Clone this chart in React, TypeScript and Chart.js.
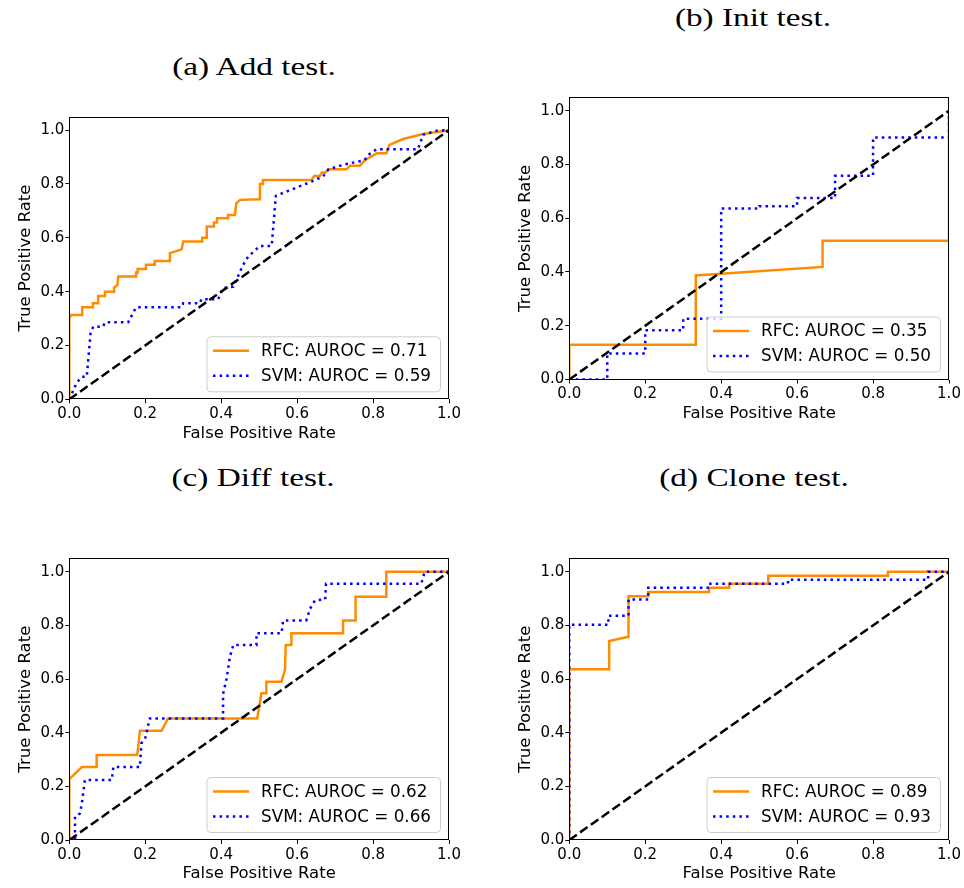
import React, { useEffect, useRef } from "react";
import { Chart, registerables } from "chart.js";

Chart.register(...registerables);

// ---------- data ----------
const addRfcFpr = [0, 0, 0.005, 0.034, 0.034, 0.062, 0.062, 0.076, 0.076, 0.094, 0.094, 0.118, 0.118, 0.127, 0.129, 0.176, 0.176, 0.18, 0.18, 0.202, 0.202, 0.225, 0.225, 0.265, 0.265, 0.296, 0.3, 0.35, 0.35, 0.362, 0.362, 0.381, 0.381, 0.389, 0.389, 0.418, 0.418, 0.436, 0.44, 0.45, 0.502, 0.502, 0.51, 0.51, 0.638, 0.645, 0.66, 0.665, 0.675, 0.683, 0.73, 0.74, 0.765, 0.78, 0.81, 0.835, 0.843, 0.879, 0.932, 1];
const addRfcTpr = [0, 0.301, 0.313, 0.313, 0.342, 0.342, 0.357, 0.357, 0.384, 0.384, 0.4, 0.4, 0.415, 0.425, 0.456, 0.456, 0.471, 0.471, 0.484, 0.484, 0.5, 0.5, 0.514, 0.514, 0.543, 0.557, 0.586, 0.586, 0.6, 0.6, 0.642, 0.642, 0.657, 0.657, 0.673, 0.673, 0.685, 0.685, 0.729, 0.741, 0.743, 0.8, 0.8, 0.815, 0.815, 0.83, 0.83, 0.843, 0.843, 0.855, 0.855, 0.868, 0.868, 0.89, 0.914, 0.914, 0.945, 0.967, 0.986, 1];
const addSvmFpr = [0, 0.019, 0.033, 0.046, 0.056, 0.063, 0.089, 0.094, 0.155, 0.176, 0.296, 0.3, 0.344, 0.348, 0.392, 0.405, 0.432, 0.458, 0.471, 0.502, 0.533, 0.544, 0.638, 0.668, 0.683, 0.721, 0.778, 0.787, 0.809, 0.918, 0.932, 0.967, 1];
const addSvmTpr = [0, 0.06, 0.084, 0.084, 0.245, 0.27, 0.27, 0.286, 0.286, 0.342, 0.342, 0.357, 0.357, 0.372, 0.372, 0.413, 0.419, 0.5, 0.53, 0.57, 0.57, 0.756, 0.809, 0.828, 0.855, 0.871, 0.889, 0.908, 0.929, 0.929, 0.983, 0.998, 1];

const initRfcFpr = [0, 0, 0.333, 0.333, 0.667, 0.667, 1, 1];
const initRfcTpr = [0, 0.129, 0.129, 0.387, 0.419, 0.516, 0.516, 1];
const initSvmFpr = [0, 0.1, 0.1, 0.2, 0.2, 0.3, 0.3, 0.4, 0.4, 0.5, 0.5, 0.6, 0.6, 0.7, 0.7, 0.8, 0.8, 1, 1];
const initSvmTpr = [0, 0, 0.097, 0.097, 0.183, 0.183, 0.226, 0.226, 0.636, 0.636, 0.645, 0.645, 0.675, 0.675, 0.758, 0.758, 0.9, 0.9, 1];

const diffRfcFpr = [0, 0, 0.033, 0.072, 0.072, 0.179, 0.186, 0.243, 0.26, 0.495, 0.506, 0.519, 0.519, 0.559, 0.568, 0.57, 0.585, 0.585, 0.721, 0.721, 0.754, 0.754, 0.835, 0.835, 1];
const diffRfcTpr = [0, 0.227, 0.272, 0.272, 0.317, 0.317, 0.407, 0.407, 0.453, 0.453, 0.547, 0.547, 0.59, 0.59, 0.634, 0.727, 0.727, 0.771, 0.771, 0.818, 0.818, 0.907, 0.907, 1, 1];
const diffSvmFpr = [0, 0.015, 0.015, 0.028, 0.033, 0.041, 0.112, 0.116, 0.186, 0.19, 0.2, 0.212, 0.405, 0.405, 0.414, 0.423, 0.432, 0.493, 0.493, 0.559, 0.563, 0.624, 0.634, 0.647, 0.674, 0.676, 0.927, 0.936, 1];
const diffSvmTpr = [0, 0, 0.087, 0.099, 0.136, 0.224, 0.224, 0.272, 0.272, 0.361, 0.38, 0.453, 0.453, 0.544, 0.6, 0.683, 0.727, 0.727, 0.771, 0.771, 0.818, 0.818, 0.862, 0.893, 0.897, 0.955, 0.955, 1, 1];

const cloneRfcFpr = [0, 0, 0.105, 0.105, 0.156, 0.156, 0.208, 0.208, 0.368, 0.368, 0.421, 0.421, 0.524, 0.524, 0.839, 0.839, 1];
const cloneRfcTpr = [0, 0.636, 0.636, 0.742, 0.758, 0.909, 0.909, 0.924, 0.924, 0.94, 0.94, 0.955, 0.955, 0.985, 0.985, 1, 1];
const cloneSvmFpr = [0, 0, 0.103, 0.103, 0.156, 0.156, 0.208, 0.208, 0.368, 0.368, 0.576, 0.576, 0.945, 0.945, 1];
const cloneSvmTpr = [0, 0.802, 0.802, 0.836, 0.836, 0.896, 0.896, 0.94, 0.94, 0.955, 0.955, 0.97, 0.97, 1, 1];

const chanceFpr = [0, 1];
const chanceTpr = [0, 1];

const panelTitles = ["(a) Add test.", "(b) Init test.", "(c) Diff test.", "(d) Clone test."];
const seriesNames = ["RFC", "SVM"];
const rfcAuroc = [0.71, 0.35, 0.62, 0.89];
const svmAuroc = [0.59, 0.5, 0.66, 0.93];
const tickValues = [0, 0.2, 0.4, 0.6, 0.8, 1.0];
const xAxisLabel = "False Positive Rate";
const yAxisLabel = "True Positive Rate";

// ---------- layout (page coordinates) ----------
type Frame = {
  L: number; T: number; W: number; H: number;
  aL: number; aT: number; aR: number; aB: number;
  yTitleX: number; xTitleY: number;
  titleX: number; titleY: number;
};

const frames: Frame[] = [
  { L: 0, T: 100, W: 470, H: 355, aL: 69.3, aT: 116.7, aR: 449, aB: 399.3, yTitleX: 26, xTitleY: 433.5, titleX: 253.5, titleY: 67 },
  { L: 500, T: 80, W: 464, H: 355, aL: 569.3, aT: 97.3, aR: 949, aB: 379.5, yTitleX: 526, xTitleY: 413.5, titleX: 752.5, titleY: 18 },
  { L: 0, T: 541, W: 470, H: 347, aL: 69.3, aT: 558.3, aR: 449, aB: 840, yTitleX: 26, xTitleY: 874, titleX: 253, titleY: 478 },
  { L: 500, T: 541, W: 464, H: 347, aL: 569.3, aT: 558.3, aR: 949, aB: 840, yTitleX: 526, xTitleY: 874, titleX: 754, titleY: 478 },
];

const panelData = [
  { rfc: [addRfcFpr, addRfcTpr], svm: [addSvmFpr, addSvmTpr] },
  { rfc: [initRfcFpr, initRfcTpr], svm: [initSvmFpr, initSvmTpr] },
  { rfc: [diffRfcFpr, diffRfcTpr], svm: [diffSvmFpr, diffSvmTpr] },
  { rfc: [cloneRfcFpr, cloneRfcTpr], svm: [cloneSvmFpr, cloneSvmTpr] },
];

const ORANGE = "#ff8c00";
const BLUE = "#0000ff";
const SANS = '"DejaVu Sans", sans-serif';
const LINE_W = 2.5;
const DOTTED = [2.5, 4.1];
const DASHED = [9.2, 4];

const zip = (xs: number[], ys: number[]) => xs.map((x, i) => ({ x, y: ys[i] }));

function makeOverlay(labels: string[]) {
  return {
    id: "rocOverlay",
    afterDraw(chart: any) {
      const { ctx, chartArea: a } = chart;
      ctx.save();
      // axes box
      ctx.setLineDash([]);
      ctx.strokeStyle = "#000";
      ctx.lineWidth = 1;
      const l = Math.round(a.left) + 0.5;
      const t = Math.round(a.top) + 0.5;
      const r = Math.round(a.right) - 0.5;
      const b = Math.round(a.bottom) - 0.5;
      ctx.strokeRect(l, t, r - l, b - t);

      // legend
      const bw = 233.5;
      const bh = 55;
      const bx = a.right - 8.5 - bw;
      const by = a.bottom - 7.5 - bh;
      const rad = 4;
      ctx.beginPath();
      ctx.moveTo(bx + rad, by);
      ctx.lineTo(bx + bw - rad, by);
      ctx.quadraticCurveTo(bx + bw, by, bx + bw, by + rad);
      ctx.lineTo(bx + bw, by + bh - rad);
      ctx.quadraticCurveTo(bx + bw, by + bh, bx + bw - rad, by + bh);
      ctx.lineTo(bx + rad, by + bh);
      ctx.quadraticCurveTo(bx, by + bh, bx, by + bh - rad);
      ctx.lineTo(bx, by + rad);
      ctx.quadraticCurveTo(bx, by, bx + rad, by);
      ctx.closePath();
      ctx.fillStyle = "rgba(255,255,255,0.8)";
      ctx.fill();
      ctx.strokeStyle = "#cccccc";
      ctx.lineWidth = 1;
      ctx.stroke();

      const rows = [
        { y: by + 14, color: ORANGE, dash: [] as number[], text: labels[0] },
        { y: by + 39, color: BLUE, dash: DOTTED, text: labels[1] },
      ];
      rows.forEach((row) => {
        ctx.beginPath();
        ctx.setLineDash(row.dash);
        ctx.lineWidth = LINE_W;
        ctx.strokeStyle = row.color;
        ctx.lineCap = "butt";
        ctx.moveTo(bx + 6, row.y);
        ctx.lineTo(bx + 42, row.y);
        ctx.stroke();
        ctx.setLineDash([]);
        ctx.fillStyle = "#000";
        ctx.font = `16.8px ${SANS}`;
        ctx.textBaseline = "middle";
        ctx.textAlign = "left";
        ctx.fillText(row.text, bx + 54, row.y + 1);
      });
      ctx.restore();
    },
  };
}

function RocPanel({ index }: { index: number }) {
  const ref = useRef<HTMLCanvasElement>(null);
  const f = frames[index];

  useEffect(() => {
    const lh = 16.5 * 1.2;
    const d = panelData[index];
    const labels = [
      `${seriesNames[0]}: AUROC = ${rfcAuroc[index].toFixed(2)}`,
      `${seriesNames[1]}: AUROC = ${svmAuroc[index].toFixed(2)}`,
    ];
    const tickOpts = {
      callback: (v: any) => Number(v).toFixed(1),
      font: { family: SANS, size: 15 },
      color: "#000",
      maxRotation: 0,
      autoSkip: false,
    };
    const gridOpts = {
      display: true,
      drawOnChartArea: false,
      drawTicks: true,
      tickLength: 4,
      color: "#000",
      lineWidth: 1,
    };
    const chart = new Chart(ref.current as HTMLCanvasElement, {
      type: "line",
      data: {
        datasets: [
          {
            label: "chance",
            data: zip(chanceFpr, chanceTpr),
            borderColor: "#000",
            borderDash: DASHED,
            borderWidth: LINE_W,
            pointRadius: 0,
            tension: 0,
            fill: false,
            clip: 0,
          },
          {
            label: labels[1],
            data: zip(d.svm[0], d.svm[1]),
            borderColor: BLUE,
            borderDash: DOTTED,
            borderWidth: LINE_W,
            pointRadius: 0,
            tension: 0,
            fill: false,
            clip: 0,
          },
          {
            label: labels[0],
            data: zip(d.rfc[0], d.rfc[1]),
            borderColor: ORANGE,
            borderWidth: LINE_W,
            pointRadius: 0,
            tension: 0,
            fill: false,
            clip: 0,
          },
        ] as any,
      },
      options: {
        responsive: false,
        animation: false,
        devicePixelRatio: 1,
        events: [],
        layout: {
          padding: { left: 0, top: f.aT - f.T, right: f.L + f.W - f.aR, bottom: 0 },
        },
        plugins: {
          legend: { display: false },
          tooltip: { enabled: false },
          title: { display: false },
        },
        scales: {
          x: {
            type: "linear",
            position: "bottom",
            min: 0,
            max: 1,
            afterFit: (s: any) => {
              s.height = f.T + f.H - f.aB;
            },
            afterBuildTicks: (s: any) => {
              s.ticks = tickValues.map((v) => ({ value: v }));
            },
            ticks: { ...tickOpts, padding: 2 },
            grid: gridOpts,
            border: { display: false },
            title: {
              display: true,
              text: xAxisLabel,
              color: "#000",
              font: { family: SANS, size: 16.5, lineHeight: 1.2 },
              padding: { top: 0, bottom: f.T + f.H - f.xTitleY - lh / 2 },
            },
          },
          y: {
            type: "linear",
            position: "left",
            min: 0,
            max: 1.05,
            afterFit: (s: any) => {
              s.width = f.aL - f.L;
            },
            afterBuildTicks: (s: any) => {
              s.ticks = tickValues.map((v) => ({ value: v }));
            },
            ticks: { ...tickOpts, padding: 1 },
            grid: gridOpts,
            border: { display: false },
            title: {
              display: true,
              text: yAxisLabel,
              color: "#000",
              font: { family: SANS, size: 16.5, lineHeight: 1.2 },
              padding: { top: f.yTitleX - f.L - lh / 2, bottom: 0 },
            },
          },
        },
      } as any,
      plugins: [makeOverlay(labels)],
    });
    return () => chart.destroy();
  }, [index]);

  return (
    <>
      <canvas
        ref={ref}
        width={f.W}
        height={f.H}
        style={{ position: "absolute", left: f.L, top: f.T, width: f.W, height: f.H }}
      />
      <div
        style={{
          position: "absolute",
          left: f.titleX,
          top: f.titleY,
          transform: "translate(-50%, -50%) scaleX(1.28)",
          fontFamily: '"Liberation Serif", serif',
          fontSize: 26,
          lineHeight: 1,
          whiteSpace: "nowrap",
          color: "#000",
        }}
      >
        {panelTitles[index]}
      </div>
    </>
  );
}

export default function App() {
  return (
    <div
      style={{
        position: "absolute",
        left: 0,
        top: 0,
        width: 964,
        height: 888,
        overflow: "hidden",
        background: "#fff",
      }}
    >
      {[0, 1, 2, 3].map((i) => (
        <RocPanel key={i} index={i} />
      ))}
    </div>
  );
}
